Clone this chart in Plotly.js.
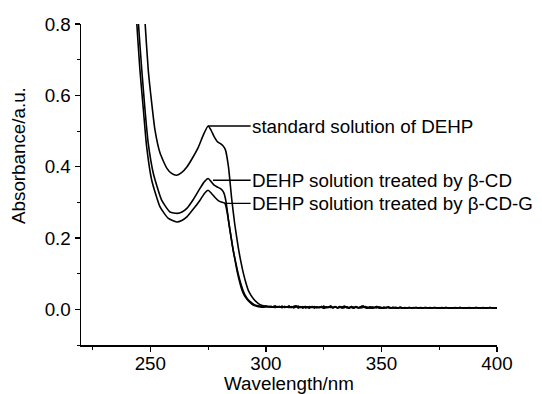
<!DOCTYPE html>
<html>
<head>
<meta charset="utf-8">
<script src="https://cdn.plot.ly/plotly-3.0.1.min.js"></script>
<style>html,body{margin:0;padding:0;background:#fff}#chart{width:542px;height:394px}</style>
</head>
<body>
<div id="chart"></div>
<script>
// ---- data ----
const seriesNames = ["standard solution of DEHP", "DEHP solution treated by β-CD", "DEHP solution treated by β-CD-G"];

const stdX = [247.3, 247.7, 249.1, 250.6, 252.0, 254.2, 257.1, 259.2, 261.4, 263.5, 265.8, 268.3, 270.8, 273.0, 275.0, 276.3, 277.6, 279.0, 280.2, 281.5, 282.5, 283.8, 285.2, 286.5, 288, 289.2, 290.3, 291.4, 292.4, 293.5, 294.6, 296, 297.5, 299];
const stdY = [0.86, 0.806, 0.671, 0.578, 0.503, 0.438, 0.396, 0.381, 0.376, 0.383, 0.399, 0.425, 0.455, 0.49, 0.514, 0.502, 0.484, 0.47, 0.465, 0.458, 0.447, 0.40, 0.31, 0.24, 0.175, 0.133, 0.10, 0.073, 0.053, 0.04, 0.03, 0.02, 0.013, 0.010];

const cdX = [244.4, 244.8, 246.3, 247.7, 249.1, 251.3, 254.9, 258.5, 261.7, 263.7, 265.8, 268.6, 271.5, 273.4, 275.0, 276.3, 277.6, 279.0, 280.2, 281.2, 281.9, 282.8, 283.8, 285, 286, 287, 288, 289, 290, 291, 292, 293.5, 295, 296.5, 298, 299];
const cdY = [0.86, 0.806, 0.671, 0.559, 0.465, 0.381, 0.306, 0.273, 0.269, 0.273, 0.283, 0.308, 0.339, 0.358, 0.367, 0.358, 0.348, 0.343, 0.339, 0.333, 0.325, 0.30, 0.25, 0.20, 0.16, 0.13, 0.10, 0.075, 0.055, 0.04, 0.03, 0.02, 0.013, 0.010, 0.008, 0.007];

const cdgX = [243.7, 244.1, 245.5, 247.0, 248.4, 250.6, 254.2, 257.8, 261.4, 263.6, 265.8, 268.6, 271.5, 273.4, 275.0, 276.3, 277.8, 279.4, 281, 282.3, 283.3, 284.5, 285.6, 286.6, 287.6, 288.6, 289.6, 290.6, 291.6, 293, 294.5, 296, 297.5, 299];
const cdgY = [0.86, 0.806, 0.671, 0.559, 0.456, 0.362, 0.287, 0.255, 0.245, 0.249, 0.259, 0.281, 0.306, 0.325, 0.334, 0.326, 0.315, 0.305, 0.30, 0.297, 0.27, 0.22, 0.175, 0.14, 0.105, 0.078, 0.055, 0.04, 0.03, 0.02, 0.012, 0.009, 0.007, 0.006];

// baseline (300-400 nm, 1 nm steps), read as a noisy flat line
const tailStart = 300;
const tailA = [0.009,0.008,0.008,0.007,0.009,0.006,0.008,0.005,0.008,0.006,
  0.009,0.005,0.008,0.009,0.004,0.007,0.004,0.008,0.006,0.004,
  0.008,0.004,0.007,0.005,0.008,0.003,0.007,0.005,0.009,0.004,
  0.007,0.004,0.008,0.004,0.005,0.007,0.003,0.008,0.005,0.006,
  0.004,0.007,0.009,0.005,0.003,0.007,0.003,0.005,0.008,0.004,
  0.003,0.006,0.004,0.007,0.003,0.006,0.004,0.003,0.006,0.004,
  0.004,0.004,0.005,0.004,0.004,0.005,0.004,0.004,0.004,0.005,
  0.004,0.004,0.004,0.005,0.004,0.004,0.004,0.004,0.005,0.004,
  0.004,0.004,0.004,0.004,0.005,0.004,0.004,0.004,0.004,0.004,
  0.004,0.005,0.004,0.004,0.004,0.004,0.004,0.005,0.004,0.004,0.004];
const tailB = [0.007,0.007,0.006,0.007,0.005,0.008,0.006,0.009,0.005,0.007,
  0.005,0.008,0.004,0.007,0.009,0.005,0.008,0.004,0.006,0.008,
  0.005,0.008,0.004,0.006,0.005,0.009,0.004,0.007,0.005,0.006,
  0.008,0.004,0.005,0.007,0.009,0.004,0.006,0.005,0.003,0.008,
  0.005,0.004,0.005,0.008,0.006,0.003,0.007,0.005,0.004,0.007,
  0.005,0.003,0.006,0.004,0.005,0.003,0.006,0.004,0.004,0.003,
  0.005,0.004,0.004,0.004,0.005,0.004,0.004,0.005,0.004,0.004,
  0.004,0.005,0.004,0.004,0.004,0.004,0.005,0.004,0.004,0.004,
  0.004,0.004,0.005,0.004,0.004,0.004,0.004,0.004,0.005,0.004,
  0.004,0.004,0.004,0.004,0.005,0.004,0.004,0.004,0.004,0.004,0.004];

// label anchor points on the curves
const labelX = [275.0, 277.1, 282.3];
const labelY = [0.514, 0.362, 0.297];
const labelTextX = 293.4;

const xTickVals = [250, 300, 350, 400];
const yTickVals = [0.0, 0.2, 0.4, 0.6, 0.8];

// ---- build traces ----
function withTail(x, y, tail) {
  const tx = x.slice(), ty = y.slice();
  for (let i = 0; i < tail.length; i++) { tx.push(tailStart + i); ty.push(tail[i]); }
  return [tx, ty];
}
const parts = [withTail(stdX, stdY, tailA), withTail(cdX, cdY, tailB), withTail(cdgX, cdgY, tailA)];
const traces = parts.map((p, i) => ({
  x: p[0], y: p[1], type: 'scatter', mode: 'lines', name: seriesNames[i],
  line: {color: '#000', width: 1.6, shape: 'spline', smoothing: 0.5}, hoverinfo: 'skip'
}));

const FONT = 'Liberation Sans, Arial, sans-serif';
const annotations = seriesNames.map((t, i) => ({
  x: labelX[i], y: labelY[i], xref: 'x', yref: 'y',
  ax: labelTextX, ay: labelY[i], axref: 'x', ayref: 'y',
  text: t, showarrow: true, arrowhead: 0, arrowwidth: 1.4, arrowcolor: '#000',
  xanchor: 'left', yanchor: 'middle', borderpad: 0,
  font: {family: FONT, size: 18.8, color: '#000'}
}));
annotations.push({
  text: 'Absorbance/a.u.', xref: 'paper', yref: 'paper', x: -0.149, y: 0.589,
  textangle: -90, showarrow: false, xanchor: 'center', yanchor: 'middle',
  font: {family: FONT, size: 18.8, color: '#000'}
});

const layout = {
  width: 542, height: 394,
  margin: {l: 81, r: 45.3, t: 24, b: 49, pad: 0},
  paper_bgcolor: '#fff', plot_bgcolor: '#fff',
  showlegend: false,
  font: {family: FONT, color: '#000', size: 18.8},
  xaxis: {
    range: [220, 400], showline: true, linecolor: '#000', linewidth: 1.5,
    showgrid: false, zeroline: false, ticks: 'outside', ticklen: 5, tickwidth: 1.3, tickcolor: '#000',
    tickvals: xTickVals, ticktext: xTickVals.map(String), ticklabelstandoff: -4,
    minor: {dtick: 25, tick0: 225, ticks: 'outside', ticklen: 3, tickwidth: 1, tickcolor: '#000', showgrid: false},
    tickfont: {family: FONT, size: 18.8, color: '#000'},
    title: {text: 'Wavelength/nm', standoff: 8, font: {family: FONT, size: 18.8, color: '#000'}}
  },
  yaxis: {
    range: [-0.1, 0.8], showline: true, linecolor: '#000', linewidth: 1.5,
    showgrid: false, zeroline: false, ticks: 'outside', ticklen: 5, tickwidth: 1.3, tickcolor: '#000',
    tickvals: yTickVals, ticktext: yTickVals.map(v => v.toFixed(1)),
    minor: {dtick: 0.1, tick0: 0.1, ticks: 'outside', ticklen: 3, tickwidth: 1, tickcolor: '#000', showgrid: false},
    tickfont: {family: FONT, size: 18.8, color: '#000'}
  },
  annotations: annotations
};
Plotly.newPlot('chart', traces, layout, {displayModeBar: false, staticPlot: true});
</script>
</body>
</html>
